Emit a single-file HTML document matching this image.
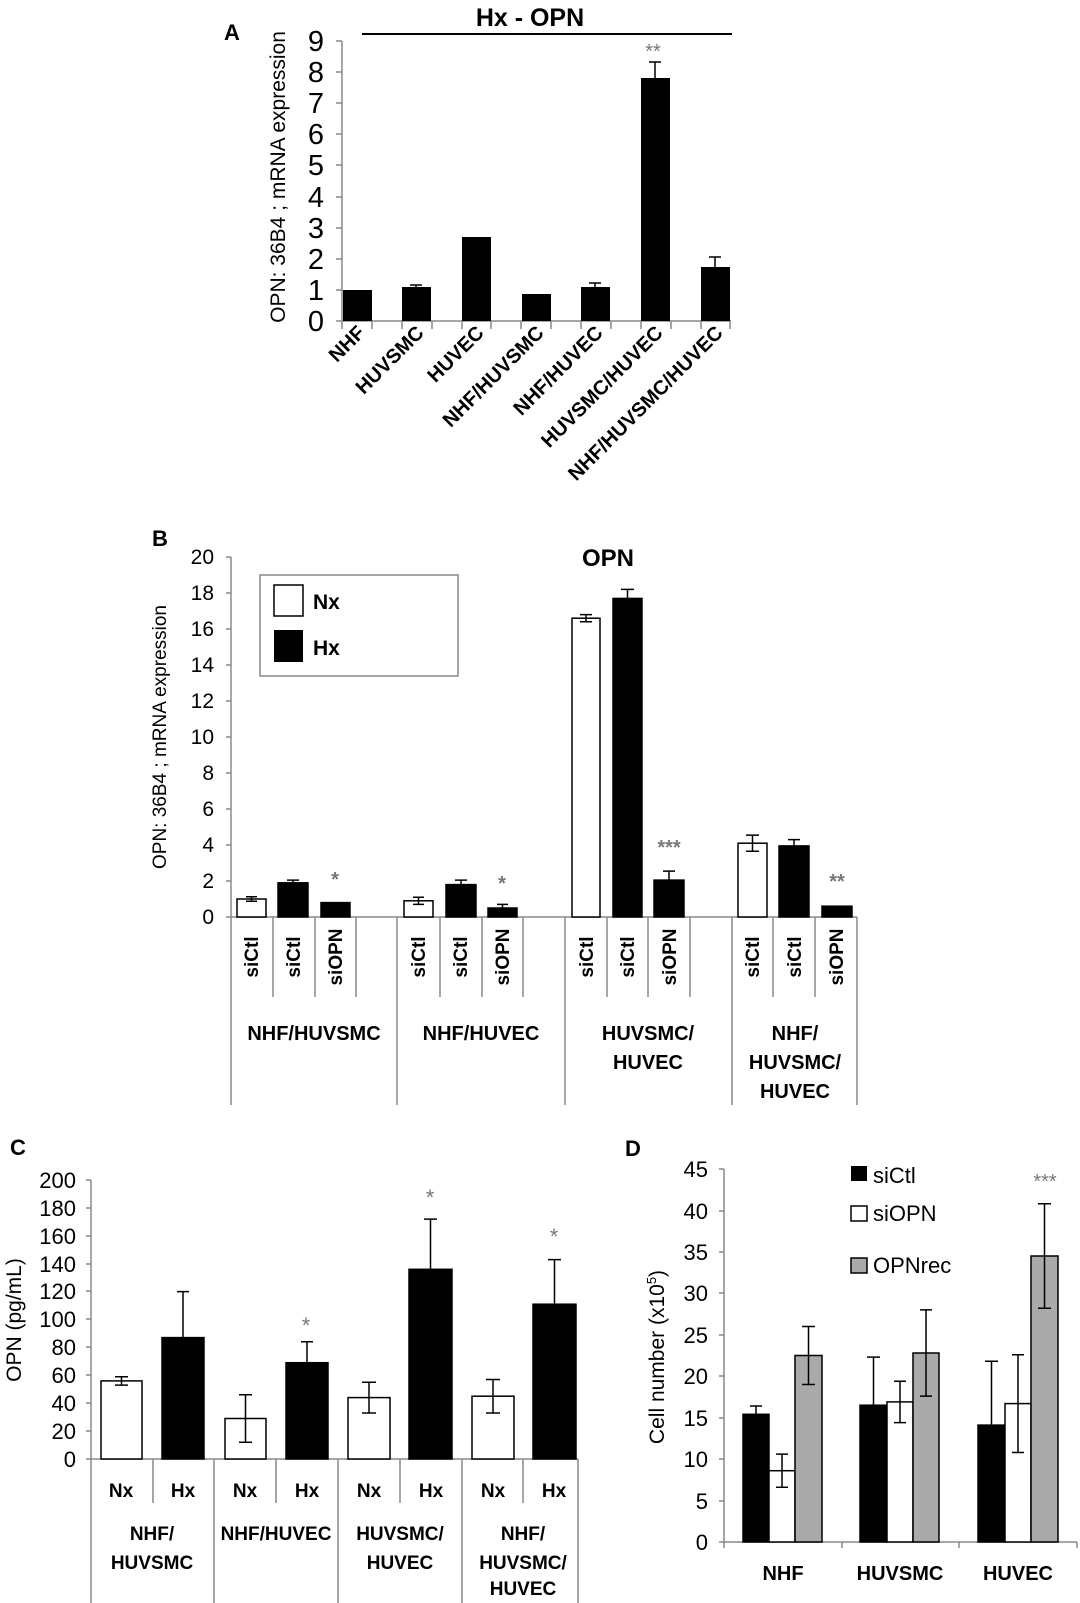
<!DOCTYPE html>
<html><head><meta charset="utf-8"><style>
html,body{margin:0;padding:0;background:#fff;}
svg{display:block;font-family:"Liberation Sans",sans-serif;}
.b{font-weight:bold;}
</style></head><body>
<svg width="1080" height="1603" viewBox="0 0 1080 1603" xmlns="http://www.w3.org/2000/svg">
<!-- ========== PANEL A ========== -->
<text x="224" y="40" class="b" font-size="22">A</text>
<text x="530" y="26" class="b" font-size="25" text-anchor="middle">Hx - OPN</text>
<line x1="362" y1="34" x2="732" y2="34" stroke="#000" stroke-width="2"/>
<text transform="translate(285,177) rotate(-90)" font-size="21" text-anchor="middle">OPN: 36B4 ; mRNA expression</text>
<g stroke="#888" stroke-width="1.5">
<line x1="342" y1="41" x2="342" y2="321"/>
<line x1="342" y1="321" x2="731" y2="321"/>
<line x1="336" y1="41" x2="342" y2="41"/><line x1="336" y1="72" x2="342" y2="72"/><line x1="336" y1="103" x2="342" y2="103"/><line x1="336" y1="134" x2="342" y2="134"/><line x1="336" y1="165" x2="342" y2="165"/><line x1="336" y1="197" x2="342" y2="197"/><line x1="336" y1="228" x2="342" y2="228"/><line x1="336" y1="259" x2="342" y2="259"/><line x1="336" y1="290" x2="342" y2="290"/><line x1="336" y1="321" x2="342" y2="321"/>
<line x1="342" y1="321" x2="342" y2="329"/><line x1="372" y1="321" x2="372" y2="329"/><line x1="402" y1="321" x2="402" y2="329"/><line x1="432" y1="321" x2="432" y2="329"/><line x1="462" y1="321" x2="462" y2="329"/><line x1="491" y1="321" x2="491" y2="329"/><line x1="521" y1="321" x2="521" y2="329"/><line x1="551" y1="321" x2="551" y2="329"/><line x1="581" y1="321" x2="581" y2="329"/><line x1="611" y1="321" x2="611" y2="329"/><line x1="641" y1="321" x2="641" y2="329"/><line x1="671" y1="321" x2="671" y2="329"/><line x1="701" y1="321" x2="701" y2="329"/><line x1="730" y1="321" x2="730" y2="329"/>
</g>
<g font-size="29" text-anchor="end">
<text x="324" y="51">9</text><text x="324" y="82">8</text><text x="324" y="113">7</text><text x="324" y="144">6</text><text x="324" y="175">5</text><text x="324" y="207">4</text><text x="324" y="238">3</text><text x="324" y="269">2</text><text x="324" y="300">1</text><text x="324" y="331">0</text>
</g>
<g fill="#000">
<rect x="343" y="290" width="29" height="31"/>
<rect x="402" y="287" width="29" height="34"/>
<rect x="462" y="237" width="29" height="84"/>
<rect x="522" y="294" width="29" height="27"/>
<rect x="581" y="287" width="29" height="34"/>
<rect x="641" y="78" width="29" height="243"/>
<rect x="701" y="267" width="29" height="54"/>
</g>
<g stroke="#000" stroke-width="1.5">
<line x1="416" y1="285" x2="416" y2="287"/><line x1="410" y1="285" x2="422" y2="285"/>
<line x1="595" y1="283" x2="595" y2="287"/><line x1="589" y1="283" x2="601" y2="283"/>
<line x1="655" y1="62" x2="655" y2="78"/><line x1="649" y1="62" x2="661" y2="62"/>
<line x1="715" y1="257" x2="715" y2="267"/><line x1="709" y1="257" x2="721" y2="257"/>
</g>
<text x="653" y="58" font-size="20" fill="#777" text-anchor="middle">**</text>
<g font-size="20" class="b" text-anchor="end">
<text transform="translate(366,334) rotate(-45)">NHF</text>
<text transform="translate(425,334) rotate(-45)">HUVSMC</text>
<text transform="translate(485,334) rotate(-45)">HUVEC</text>
<text transform="translate(545,334) rotate(-45)">NHF/HUVSMC</text>
<text transform="translate(604,334) rotate(-45)">NHF/HUVEC</text>
<text transform="translate(664,334) rotate(-45)">HUVSMC/HUVEC</text>
<text transform="translate(724,334) rotate(-45)">NHF/HUVSMC/HUVEC</text>
</g>

<!-- ========== PANEL B ========== -->
<text x="152" y="546" class="b" font-size="22">B</text>
<text x="608" y="566" class="b" font-size="24" text-anchor="middle">OPN</text>
<text transform="translate(166,737) rotate(-90)" font-size="19" text-anchor="middle">OPN: 36B4 ; mRNA expression</text>
<g stroke="#888" stroke-width="1.5" fill="none">
<line x1="231" y1="557" x2="231" y2="917"/>
<line x1="231" y1="917" x2="857" y2="917"/>
<line x1="226" y1="557" x2="231" y2="557"/><line x1="226" y1="593" x2="231" y2="593"/><line x1="226" y1="629" x2="231" y2="629"/><line x1="226" y1="665" x2="231" y2="665"/><line x1="226" y1="701" x2="231" y2="701"/><line x1="226" y1="737" x2="231" y2="737"/><line x1="226" y1="773" x2="231" y2="773"/><line x1="226" y1="809" x2="231" y2="809"/><line x1="226" y1="845" x2="231" y2="845"/><line x1="226" y1="881" x2="231" y2="881"/><line x1="226" y1="917" x2="231" y2="917"/>
<line x1="231" y1="917" x2="231" y2="1105"/><line x1="397" y1="917" x2="397" y2="1105"/><line x1="565" y1="917" x2="565" y2="1105"/><line x1="732" y1="917" x2="732" y2="1105"/><line x1="857" y1="917" x2="857" y2="1105"/>
<line x1="273" y1="917" x2="273" y2="997"/><line x1="315" y1="917" x2="315" y2="997"/><line x1="356" y1="917" x2="356" y2="997"/>
<line x1="440" y1="917" x2="440" y2="997"/><line x1="482" y1="917" x2="482" y2="997"/><line x1="523" y1="917" x2="523" y2="997"/>
<line x1="607" y1="917" x2="607" y2="997"/><line x1="648" y1="917" x2="648" y2="997"/><line x1="690" y1="917" x2="690" y2="997"/>
<line x1="773" y1="917" x2="773" y2="997"/><line x1="815" y1="917" x2="815" y2="997"/>
<rect x="260" y="575" width="198" height="101"/>
</g>
<g font-size="21" text-anchor="end">
<text x="214" y="564">20</text><text x="214" y="600">18</text><text x="214" y="636">16</text><text x="214" y="672">14</text><text x="214" y="708">12</text><text x="214" y="744">10</text><text x="214" y="780">8</text><text x="214" y="816">6</text><text x="214" y="852">4</text><text x="214" y="888">2</text><text x="214" y="924">0</text>
</g>
<rect x="274" y="585" width="29" height="31" fill="#fff" stroke="#000" stroke-width="1.5"/>
<rect x="274" y="630" width="29" height="32" fill="#000"/>
<text x="313" y="609" class="b" font-size="21">Nx</text>
<text x="313" y="655" class="b" font-size="21">Hx</text>
<g stroke="#000" stroke-width="1.5">
<rect x="237" y="899" width="29" height="18" fill="#fff"/>
<rect x="278" y="882.8" width="30" height="34.2" fill="#000"/>
<rect x="321" y="902.6" width="29" height="14.4" fill="#000"/>
<rect x="404" y="900.8" width="29" height="16.2" fill="#fff"/>
<rect x="446" y="884.6" width="30" height="32.4" fill="#000"/>
<rect x="488" y="908" width="29" height="9" fill="#000"/>
<rect x="572" y="618.2" width="28" height="298.8" fill="#fff"/>
<rect x="613" y="598.4" width="29" height="318.6" fill="#000"/>
<rect x="654" y="880.1" width="30" height="36.9" fill="#000"/>
<rect x="738" y="843.2" width="29" height="73.8" fill="#fff"/>
<rect x="779" y="845.9" width="30" height="71.1" fill="#000"/>
<rect x="822" y="906.2" width="30" height="10.8" fill="#000"/>
<path d="M251.5 896.8V901.2M246 896.8H257M246 901.2H257" fill="none"/>
<path d="M293 880.1V882.8M287 880.1H299" fill="none"/>
<path d="M418.5 897.2V904.4M413 897.2H424M413 904.4H424" fill="none"/>
<path d="M461 880.1V884.6M455 880.1H467" fill="none"/>
<path d="M502.5 904.4V908M497 904.4H508" fill="none"/>
<path d="M586 614.6V621.8M580 614.6H592M580 621.8H592" fill="none"/>
<path d="M627.5 589.4V598.4M621 589.4H634" fill="none"/>
<path d="M669 871.1V880.1M663 871.1H675" fill="none"/>
<path d="M752.5 835.1V851.3M746 835.1H759M746 851.3H759" fill="none"/>
<path d="M794 839.6V845.9M788 839.6H800" fill="none"/>
</g>
<g font-size="20" fill="#777" class="b" text-anchor="middle">
<text x="335" y="886">*</text><text x="502" y="890">*</text><text x="669" y="854">***</text><text x="837" y="888">**</text>
</g>
<g font-size="19" class="b" text-anchor="middle">
<text transform="translate(258,957) rotate(-90)">siCtl</text><text transform="translate(300,957) rotate(-90)">siCtl</text><text transform="translate(342,957) rotate(-90)">siOPN</text>
<text transform="translate(425,957) rotate(-90)">siCtl</text><text transform="translate(467,957) rotate(-90)">siCtl</text><text transform="translate(509,957) rotate(-90)">siOPN</text>
<text transform="translate(593,957) rotate(-90)">siCtl</text><text transform="translate(634,957) rotate(-90)">siCtl</text><text transform="translate(676,957) rotate(-90)">siOPN</text>
<text transform="translate(759,957) rotate(-90)">siCtl</text><text transform="translate(801,957) rotate(-90)">siCtl</text><text transform="translate(843,957) rotate(-90)">siOPN</text>
</g>
<g font-size="20" class="b" text-anchor="middle">
<text x="314" y="1040">NHF/HUVSMC</text>
<text x="481" y="1040">NHF/HUVEC</text>
<text x="648" y="1040">HUVSMC/</text><text x="648" y="1069">HUVEC</text>
<text x="795" y="1040">NHF/</text><text x="795" y="1069">HUVSMC/</text><text x="795" y="1098">HUVEC</text>
</g>

<!-- ========== PANEL C ========== -->
<text x="10" y="1155" class="b" font-size="22">C</text>
<text transform="translate(21,1320) rotate(-90)" font-size="21" text-anchor="middle">OPN (pg/mL)</text>
<g stroke="#888" stroke-width="1.5">
<line x1="91" y1="1180" x2="91" y2="1459"/>
<line x1="91" y1="1459" x2="578" y2="1459"/>
<line x1="86" y1="1180" x2="91" y2="1180"/><line x1="86" y1="1208" x2="91" y2="1208"/><line x1="86" y1="1236" x2="91" y2="1236"/><line x1="86" y1="1264" x2="91" y2="1264"/><line x1="86" y1="1291" x2="91" y2="1291"/><line x1="86" y1="1319" x2="91" y2="1319"/><line x1="86" y1="1347" x2="91" y2="1347"/><line x1="86" y1="1375" x2="91" y2="1375"/><line x1="86" y1="1403" x2="91" y2="1403"/><line x1="86" y1="1431" x2="91" y2="1431"/><line x1="86" y1="1459" x2="91" y2="1459"/>
<line x1="91" y1="1459" x2="91" y2="1603"/><line x1="214" y1="1459" x2="214" y2="1603"/><line x1="338" y1="1459" x2="338" y2="1603"/><line x1="462" y1="1459" x2="462" y2="1603"/><line x1="578" y1="1459" x2="578" y2="1603"/>
<line x1="153" y1="1459" x2="153" y2="1503"/><line x1="276" y1="1459" x2="276" y2="1503"/><line x1="400" y1="1459" x2="400" y2="1503"/><line x1="523" y1="1459" x2="523" y2="1503"/>
</g>
<g font-size="22" text-anchor="end">
<text x="76" y="1188">200</text><text x="76" y="1216">180</text><text x="76" y="1244">160</text><text x="76" y="1272">140</text><text x="76" y="1299">120</text><text x="76" y="1327">100</text><text x="76" y="1355">80</text><text x="76" y="1383">60</text><text x="76" y="1411">40</text><text x="76" y="1439">20</text><text x="76" y="1467">0</text>
</g>
<g stroke="#000" stroke-width="1.5">
<rect x="101" y="1380.9" width="41" height="78.1" fill="#fff"/>
<rect x="162" y="1337.6" width="42" height="121.4" fill="#000"/>
<rect x="225" y="1418.5" width="41" height="40.5" fill="#fff"/>
<rect x="286" y="1362.7" width="42" height="96.3" fill="#000"/>
<rect x="348" y="1397.6" width="42" height="61.4" fill="#fff"/>
<rect x="409" y="1269.3" width="43" height="189.7" fill="#000"/>
<rect x="472" y="1396.2" width="42" height="62.8" fill="#fff"/>
<rect x="533" y="1304.2" width="43" height="154.8" fill="#000"/>
<path d="M121.5 1376.7V1385.1M115 1376.7H128M115 1385.1H128" fill="none"/>
<path d="M183 1291.6V1337.6M177 1291.6H189" fill="none"/>
<path d="M245.5 1394.8V1442.2M239 1394.8H252M239 1442.2H252" fill="none"/>
<path d="M307 1341.8V1362.7M301 1341.8H313" fill="none"/>
<path d="M369 1382.3V1413M362 1382.3H376M362 1413H376" fill="none"/>
<path d="M430.5 1219.1V1269.3M424 1219.1H437" fill="none"/>
<path d="M493 1379.5V1413M486 1379.5H500M486 1413H500" fill="none"/>
<path d="M554.5 1259.6V1304.2M548 1259.6H561" fill="none"/>
</g>
<g font-size="22" fill="#777" text-anchor="middle">
<text x="306" y="1333">*</text><text x="430" y="1205">*</text><text x="554" y="1244">*</text>
</g>
<g font-size="19" class="b" text-anchor="middle">
<text x="121" y="1497">Nx</text><text x="183" y="1497">Hx</text>
<text x="245" y="1497">Nx</text><text x="307" y="1497">Hx</text>
<text x="369" y="1497">Nx</text><text x="431" y="1497">Hx</text>
<text x="493" y="1497">Nx</text><text x="554" y="1497">Hx</text>
<text x="152" y="1540">NHF/</text><text x="152" y="1569">HUVSMC</text>
<text x="276" y="1540">NHF/HUVEC</text>
<text x="400" y="1540">HUVSMC/</text><text x="400" y="1569">HUVEC</text>
<text x="523" y="1540">NHF/</text><text x="523" y="1569">HUVSMC/</text><text x="523" y="1595">HUVEC</text>
</g>

<!-- ========== PANEL D ========== -->
<text x="625" y="1156" class="b" font-size="22">D</text>
<text transform="translate(664,1357) rotate(-90)" font-size="21" text-anchor="middle">Cell number (x10<tspan font-size="13" dy="-8">5</tspan><tspan dy="8">)</tspan></text>
<g stroke="#888" stroke-width="1.5">
<line x1="724" y1="1169" x2="724" y2="1542"/>
<line x1="724" y1="1542" x2="1077" y2="1542"/>
<line x1="719" y1="1169" x2="724" y2="1169"/><line x1="719" y1="1211" x2="724" y2="1211"/><line x1="719" y1="1252" x2="724" y2="1252"/><line x1="719" y1="1293" x2="724" y2="1293"/><line x1="719" y1="1335" x2="724" y2="1335"/><line x1="719" y1="1376" x2="724" y2="1376"/><line x1="719" y1="1418" x2="724" y2="1418"/><line x1="719" y1="1459" x2="724" y2="1459"/><line x1="719" y1="1501" x2="724" y2="1501"/><line x1="719" y1="1542" x2="724" y2="1542"/>
<line x1="724" y1="1542" x2="724" y2="1548"/><line x1="842" y1="1542" x2="842" y2="1548"/><line x1="959" y1="1542" x2="959" y2="1548"/><line x1="1077" y1="1542" x2="1077" y2="1548"/>
</g>
<g font-size="22" text-anchor="end">
<text x="708" y="1177">45</text><text x="708" y="1219">40</text><text x="708" y="1260">35</text><text x="708" y="1301">30</text><text x="708" y="1343">25</text><text x="708" y="1384">20</text><text x="708" y="1426">15</text><text x="708" y="1467">10</text><text x="708" y="1509">5</text><text x="708" y="1550">0</text>
</g>
<g stroke="#000" stroke-width="1.5">
<rect x="743" y="1414.3" width="26" height="127.7" fill="#000"/>
<rect x="769" y="1470.7" width="26" height="71.3" fill="#fff"/>
<rect x="795" y="1355.5" width="27" height="186.5" fill="#aaa"/>
<rect x="860" y="1405.2" width="27" height="136.8" fill="#000"/>
<rect x="887" y="1401.9" width="26" height="140.1" fill="#fff"/>
<rect x="913" y="1353" width="26" height="189" fill="#aaa"/>
<rect x="978" y="1425.1" width="27" height="116.9" fill="#000"/>
<rect x="1005" y="1403.6" width="26" height="138.4" fill="#fff"/>
<rect x="1031" y="1256" width="27" height="286" fill="#aaa"/>
<path d="M756 1406V1414.3M750 1406H762" fill="none"/>
<path d="M782 1454.1V1487.3M776 1454.1H788M776 1487.3H788" fill="none"/>
<path d="M808.5 1326.5V1384.5M802 1326.5H815M802 1384.5H815" fill="none"/>
<path d="M873.5 1357.1V1405.2M867 1357.1H880" fill="none"/>
<path d="M900 1381.2V1422.6M894 1381.2H906M894 1422.6H906" fill="none"/>
<path d="M926 1309.9V1396.1M920 1309.9H932M920 1396.1H932" fill="none"/>
<path d="M991.5 1361.3V1425.1M985 1361.3H998" fill="none"/>
<path d="M1018 1354.7V1452.5M1012 1354.7H1024M1012 1452.5H1024" fill="none"/>
<path d="M1044.5 1203.8V1308.2M1038 1203.8H1051M1038 1308.2H1051" fill="none"/>
</g>
<rect x="851" y="1166" width="16" height="15" fill="#000"/>
<rect x="851" y="1206" width="16" height="15" fill="#fff" stroke="#000" stroke-width="1.5"/>
<rect x="851" y="1258" width="16" height="15" fill="#aaa" stroke="#000" stroke-width="1.5"/>
<g font-size="22">
<text x="873" y="1183">siCtl</text><text x="873" y="1221">siOPN</text><text x="873" y="1273">OPNrec</text>
</g>
<text x="1045" y="1188" font-size="20" fill="#777" text-anchor="middle">***</text>
<g font-size="20" class="b" text-anchor="middle">
<text x="783" y="1580">NHF</text><text x="900" y="1580">HUVSMC</text><text x="1018" y="1580">HUVEC</text>
</g>
</svg>
</body></html>
